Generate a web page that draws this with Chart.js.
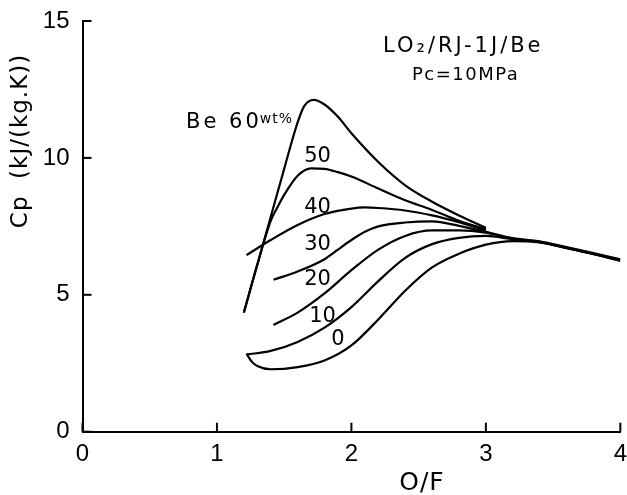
<!DOCTYPE html>
<html lang="en">
<head>
  <meta charset="UTF-8" />
  <title>Cp vs O/F - LO2/RJ-1J/Be</title>
  <style>
    html, body { margin: 0; padding: 0; background: #fff; }
    canvas { display: block; }
  </style>
</head>
<body>
  <canvas id="cpChart" width="627" height="495"></canvas>

  <script src="https://cdn.jsdelivr.net/npm/chart.js"></script>
  <script>
    // axis ticks
    const xTicks = [0, 1, 2, 3, 4];
    const yTicks = [0, 5, 10, 15];
    const beLabels = ['60', '50', '40', '30', '20', '10', '0'];

    // O/F and Cp (Be wt%)
    const ofBe60 = [1.20, 1.30, 1.40, 1.50, 1.60, 1.65, 1.72, 1.80, 1.90, 2.00, 2.20, 2.40, 2.60, 2.80, 3.00];
    const cpBe60 = [4.35, 6.10, 7.85, 9.60, 11.30, 11.90, 12.12, 11.95, 11.50, 10.90, 9.85, 9.00, 8.40, 7.90, 7.45];

    const ofBe50 = [1.20, 1.30, 1.40, 1.45, 1.50, 1.60, 1.70, 1.80, 1.90, 2.00, 2.20, 2.40, 2.60, 2.80, 3.00];
    const cpBe50 = [4.35, 6.10, 7.70, 8.20, 8.65, 9.35, 9.62, 9.60, 9.48, 9.32, 8.88, 8.45, 8.10, 7.70, 7.40];

    const ofBe40 = [1.22, 1.40, 1.60, 1.80, 2.00, 2.10, 2.20, 2.40, 2.60, 2.80, 3.00];
    const cpBe40 = [6.45, 7.00, 7.55, 7.95, 8.15, 8.19, 8.17, 8.08, 7.90, 7.65, 7.35];

    const ofBe30 = [1.42, 1.60, 1.80, 1.90, 2.00, 2.10, 2.20, 2.40, 2.60, 2.80, 3.00, 3.20, 3.40, 3.60, 3.80, 4.00];
    const cpBe30 = [5.55, 5.85, 6.30, 6.65, 7.00, 7.30, 7.50, 7.64, 7.68, 7.52, 7.30, 7.07, 6.95, 6.74, 6.52, 6.30];

    const ofBe20 = [1.42, 1.60, 1.80, 2.00, 2.20, 2.40, 2.60, 2.80, 3.00, 3.20, 3.40, 3.60, 3.80, 4.00];
    const cpBe20 = [3.90, 4.35, 5.05, 5.90, 6.65, 7.15, 7.35, 7.35, 7.27, 7.05, 6.93, 6.72, 6.50, 6.28];

    const ofBe10 = [1.22, 1.40, 1.60, 1.80, 2.00, 2.20, 2.40, 2.60, 2.80, 3.00, 3.20, 3.40, 3.60, 3.80, 4.00];
    const cpBe10 = [2.82, 2.95, 3.28, 3.80, 4.55, 5.50, 6.35, 6.85, 7.08, 7.15, 7.03, 6.92, 6.71, 6.49, 6.26];

    const ofBe0 = [1.22, 1.26, 1.30, 1.40, 1.60, 1.80, 2.00, 2.20, 2.40, 2.60, 2.80, 3.00, 3.20, 3.40, 3.60, 3.80, 4.00];
    const cpBe0 = [2.85, 2.55, 2.40, 2.28, 2.36, 2.60, 3.15, 4.10, 5.15, 6.00, 6.50, 6.83, 6.96, 6.91, 6.70, 6.48, 6.24];

    const curves = [
      [ofBe60, cpBe60], [ofBe50, cpBe50], [ofBe40, cpBe40], [ofBe30, cpBe30],
      [ofBe20, cpBe20], [ofBe10, cpBe10], [ofBe0, cpBe0]
    ];

    const datasets = curves.map(([xs, ys], i) => ({
      label: 'Be ' + beLabels[i] + 'wt%',
      data: xs.map((v, j) => ({ x: v, y: ys[j] })),
      borderColor: '#000',
      borderWidth: 2.2,
      pointRadius: 0,
      fill: false,
      cubicInterpolationMode: 'monotone'
    }));

    const FONT = '"DejaVu Sans", "Liberation Sans", sans-serif';
    const TICK_FONT = '"Liberation Sans", Arial, sans-serif';

    // inward tick marks, curve labels and titles
    const decorations = {
      id: 'decorations',
      afterDraw(chart) {
        const { ctx, scales: { x, y } } = chart;
        ctx.save();
        ctx.strokeStyle = '#000';
        ctx.lineWidth = 2;
        xTicks.forEach(v => {
          const px = x.getPixelForValue(v);
          ctx.beginPath();
          ctx.moveTo(px, y.bottom);
          ctx.lineTo(px, y.bottom - 9);
          ctx.stroke();
        });
        yTicks.forEach(v => {
          const py = y.getPixelForValue(v);
          ctx.beginPath();
          ctx.moveTo(x.left, py);
          ctx.lineTo(x.left + 9, py);
          ctx.stroke();
        });

        ctx.fillStyle = '#000';
        ctx.textAlign = 'left';
        ctx.textBaseline = 'alphabetic';

        // curve labels at data positions
        ctx.font = '21px ' + FONT;
        ctx.letterSpacing = '3px';
        const bx = x.getPixelForValue(0.77);
        const by = y.getPixelForValue(11.08);
        const beText = 'Be ' + beLabels[0];
        ctx.fillText(beText, bx, by);
        const bw = ctx.measureText(beText).width;
        ctx.font = '14px ' + FONT;
        ctx.letterSpacing = '1px';
        ctx.fillText('wt%', bx + bw - 2, by - 5);
        ctx.font = '21px ' + FONT;
        ctx.letterSpacing = '0px';
        const labelPos = [null, [1.649, 9.84], [1.649, 7.98], [1.649, 6.63], [1.649, 5.35], [1.686, 4.0], [1.85, 3.16]];
        labelPos.forEach((p, i) => {
          if (p) ctx.fillText(beLabels[i], x.getPixelForValue(p[0]), y.getPixelForValue(p[1]));
        });

        // propellant title
        ctx.font = '21px ' + FONT;
        ctx.letterSpacing = '3px';
        ctx.fillText('LO\u2082/RJ-1J/Be', 383, 52);
        ctx.font = '18px ' + FONT;
        ctx.letterSpacing = '1.5px';
        ctx.fillText('Pc=10MPa', 412, 80);

        // axis titles
        ctx.letterSpacing = '1px';
        ctx.font = '25px ' + FONT;
        ctx.textAlign = 'center';
        ctx.textBaseline = 'middle';
        ctx.fillText('O/F', 422, 483);
        ctx.translate(21, 141);
        ctx.rotate(-Math.PI / 2);
        ctx.font = '23px ' + FONT;
        ctx.fillText('Cp  (kJ/(kg.K))', 0, 0);
        ctx.restore();
      }
    };

    new Chart(document.getElementById('cpChart'), {
      type: 'line',
      data: { datasets },
      options: {
        responsive: false,
        animation: false,
        devicePixelRatio: 1,
        layout: { padding: { top: 21, right: 1.5, left: 0, bottom: 0 } },
        plugins: { legend: { display: false }, tooltip: { enabled: false } },
        scales: {
          x: {
            type: 'linear',
            min: 0,
            max: 4,
            grid: { display: false },
            border: { display: true, color: '#000', width: 2 },
            ticks: {
              stepSize: 1,
              padding: 0,
              color: '#000',
              font: { family: TICK_FONT, size: 24 }
            },
            afterFit: s => { s.height = 63.3; }
          },
          y: {
            min: 0,
            max: 15,
            grid: { display: false },
            border: { display: true, color: '#000', width: 2 },
            ticks: {
              stepSize: 5,
              padding: 5,
              color: '#000',
              font: { family: TICK_FONT, size: 24 }
            },
            afterFit: s => { s.width = 82.5; }
          }
        }
      },
      plugins: [decorations]
    });
  </script>
</body>
</html>
